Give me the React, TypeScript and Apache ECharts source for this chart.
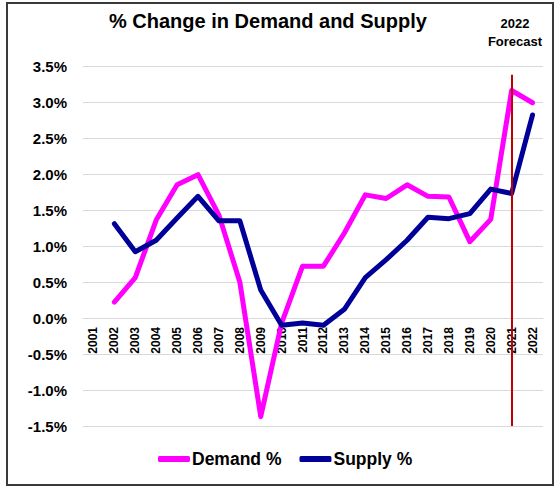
import React, { useEffect, useRef } from "react";
import * as echarts from "echarts";

const years = ["2001","2002","2003","2004","2005","2006","2007","2008","2009","2010","2011","2012","2013","2014","2015","2016","2017","2018","2019","2020","2021","2022"];
const demand = [null, 0.22, 0.56, 1.36, 1.85, 1.99, 1.43, 0.50, -1.37, -0.07, 0.72, 0.72, 1.18, 1.71, 1.66, 1.85, 1.69, 1.68, 1.06, 1.37, 3.16, 2.99];
const supply = [null, 1.31, 0.92, 1.08, 1.39, 1.69, 1.35, 1.35, 0.39, -0.10, -0.07, -0.10, 0.12, 0.56, 0.81, 1.08, 1.40, 1.38, 1.45, 1.79, 1.73, 2.82];
const forecastYear = "2021";
const FONT = "'Liberation Sans', Arial, sans-serif";

export default function App() {
  const ref = useRef<HTMLDivElement>(null);
  useEffect(() => {
    if (!ref.current) return;
    const chart = echarts.init(ref.current, null, { renderer: "svg" });
    chart.setOption({
      animation: false,
      backgroundColor: "#ffffff",
      textStyle: { fontFamily: FONT },
      title: [
        {
          text: "% Change in Demand and Supply",
          left: 109,
          top: 11,
          padding: 0,
          textStyle: { fontFamily: FONT, fontSize: 20, fontWeight: "bold", color: "#000" },
        },
        {
          text: "2022\nForecast",
          left: 515,
          top: 14,
          padding: 0,
          textAlign: "center",
          textStyle: { fontFamily: FONT, fontSize: 13, fontWeight: "bold", color: "#000", lineHeight: 18 },
        },
      ],
      graphic: [
        {
          type: "rect",
          shape: { x: 7, y: 3, width: 546, height: 482 },
          style: { fill: "none", stroke: "#3a3a3a", lineWidth: 2 },
          silent: true,
        },
      ],
      legend: {
        bottom: 14,
        left: 153,
        icon: "roundRect",
        itemWidth: 32,
        itemHeight: 6,
        itemGap: 18,
        textStyle: { fontFamily: FONT, fontSize: 17.5, fontWeight: "bold", color: "#000", padding: [0, 0, 0, -3] },
        data: ["Demand %", "Supply %"],
      },
      grid: { left: 83, right: 16, top: 66, bottom: 61, containLabel: false },
      xAxis: {
        type: "category",
        data: years,
        boundaryGap: true,
        offset: -108,
        axisLine: { show: true, onZero: false, lineStyle: { color: "#d9d9d9", width: 1 } },
        axisTick: { show: false },
        axisLabel: {
          interval: 0,
          rotate: 90,
          margin: 9,
          fontFamily: FONT,
          fontSize: 12,
          fontWeight: "bold",
          color: "#000",
        },
      },
      yAxis: {
        type: "value",
        min: -1.5,
        max: 3.5,
        interval: 0.5,
        axisLine: { show: false },
        axisTick: { show: false },
        splitLine: { lineStyle: { color: "#d9d9d9", width: 1 } },
        axisLabel: {
          margin: 16,
          fontFamily: FONT,
          fontSize: 15,
          fontWeight: "bold",
          color: "#000",
          formatter: (v: number) => v.toFixed(1) + "%",
        },
      },
      series: [
        {
          name: "Demand %",
          type: "line",
          data: demand,
          symbol: "none",
          color: "#ff00ff",
          lineStyle: { color: "#ff00ff", width: 5, cap: "round", join: "round" },
          markLine: {
            silent: true,
            symbol: "none",
            label: { show: false },
            lineStyle: { color: "#c00000", width: 2, type: "solid" },
            data: [[{ coord: [forecastYear, 3.38] }, { coord: [forecastYear, -1.5] }]],
          },
        },
        {
          name: "Supply %",
          type: "line",
          data: supply,
          symbol: "none",
          color: "#000099",
          lineStyle: { color: "#000099", width: 5, cap: "round", join: "round" },
        },
      ],
    });
    return () => chart.dispose();
  }, []);
  return (
    <div
      ref={ref}
      style={{ position: "fixed", left: 0, top: 0, width: 559, height: 487 }}
    />
  );
}
